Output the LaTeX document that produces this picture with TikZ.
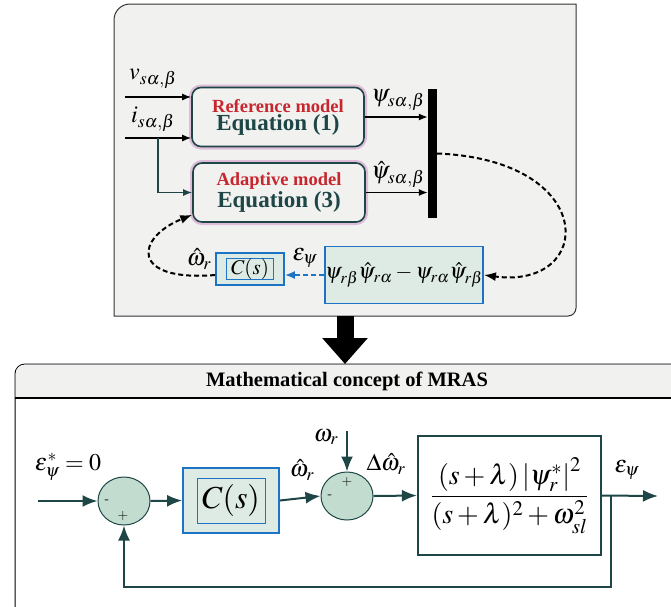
\documentclass[tikz,border=0pt]{standalone}
\usepackage{amsmath}
\usepackage{mathptmx}
\usepackage[no-math]{fontspec}
\setmainfont{Liberation Serif}
\usetikzlibrary{arrows.meta,positioning,shapes.geometric}
\definecolor{panelgray}{HTML}{F1F1F0}
\definecolor{deepteal}{HTML}{1E4646}
\definecolor{modelred}{HTML}{C8262E}
\definecolor{boxblue}{HTML}{1E74C4}
\definecolor{mintfill}{HTML}{DDEBE4}
\definecolor{sumfill}{HTML}{C2DCD0}
\definecolor{glowpink}{HTML}{DDBDD8}
\begin{document}
\begin{tikzpicture}[x=1pt,y=-1pt,
  model/.style={draw=deepteal, line width=1.6pt, rounded corners=9pt, fill=panelgray,
    minimum width=172pt, minimum height=59pt, align=center, inner sep=0pt,
    preaction={draw=glowpink, line width=6pt}},
  blueblk/.style={draw=boxblue, line width=1.8pt, fill=mintfill, inner sep=0pt},
  sumnode/.style={ellipse, draw=deepteal, line width=1pt, fill=sumfill,
    minimum width=52pt, minimum height=48pt, inner sep=0pt},
  sig/.style={-{Latex[length=9pt,width=7pt]}, line width=1.4pt},
  dsig/.style={-{Latex[length=12pt,width=9pt]}, line width=2pt, dash pattern=on 5pt off 3pt},
  flow/.style={-{Latex[length=15pt,width=12pt]}, line width=2pt, draw=deepteal},
  lbl/.style={font=\fontsize{24}{26}\selectfont, inner sep=0pt},
  sign/.style={font=\fontsize{14}{14}\selectfont\sffamily, inner sep=0pt}]
\useasboundingbox (0,0) rectangle (671,606);
\clip (0,0) rectangle (671,606);

% upper panel: the two models
\draw[draw=black!80, line width=1pt, fill=panelgray]
  (114,200) [rounded corners=16pt] -- (114,4) [sharp corners] -- (576,4)
  [rounded corners=8pt] -- (576,316) [sharp corners] -- (114,316) -- cycle;
\node[model] (refmodel) at (278,117)
  {\textcolor{modelred}{\fontsize{18.5}{20}\selectfont\bfseries Reference model}\\[1pt]
   \textcolor{deepteal}{\fontsize{23}{25}\selectfont\bfseries Equation (1)}};
\node[model] (adapmodel) at (279,192.5)
  {\textcolor{modelred}{\fontsize{18.5}{20}\selectfont\bfseries Adaptive model}\\[1pt]
   \textcolor{deepteal}{\fontsize{23}{25}\selectfont\bfseries Equation (3)}};
\node[fill=black, minimum width=9pt, minimum height=129pt, inner sep=0pt] (fluxbar) at (432.5,153.5) {};
\coordinate (vin) at (125,97);
\coordinate (iin) at (125,138);
\coordinate (ibranch) at (158,138);
\draw[sig] (vin) -- (vin -| refmodel.west);
\draw[sig] (iin) -- (iin -| refmodel.west);
\draw[sig, draw=deepteal] (ibranch) |- (adapmodel.west);
\node[lbl] (vlbl) at (153,79) {$v_{s\alpha,\beta}$};
\node[lbl] (ilbl) at (153,119) {$i_{s\alpha,\beta}$};
\draw[sig] (refmodel.east) -- (refmodel.east -| fluxbar.west);
\draw[sig] (adapmodel.east) -- (adapmodel.east -| fluxbar.west);
\node[lbl] (psilbl) at (398,100) {$\psi_{s\alpha,\beta}$};
\node[lbl] (psihatlbl) at (398,174) {$\hat{\psi}_{s\alpha,\beta}$};

% error and adaptation loop
\node[blueblk, minimum width=158pt, minimum height=57pt, font=\fontsize{22}{24}\selectfont]
  (errbox) at (404,275) {$\psi_{r\beta}\hat{\psi}_{r\alpha}-\psi_{r\alpha}\hat{\psi}_{r\beta}$};
\node[blueblk, minimum width=68pt, minimum height=32pt] (ctrltop) at (250,269) {};
\node[draw=boxblue, line width=1pt, minimum width=47pt, minimum height=21pt, inner sep=0pt,
  font=\fontsize{21}{23}\selectfont] (ctrltopin) at (ctrltop.center) {$C(s)$};
\draw[dsig] (fluxbar.east) .. controls (600,160) and (595,290) .. (errbox.east);
\draw[dsig, draw=boxblue, -{Latex[length=10pt,width=8pt]}, line width=1.6pt]
  (errbox.west) -- (errbox.west -| ctrltop.east);
\node[lbl] (epslbl) at (305,258) {$\varepsilon_{\psi}$};
\draw[dsig] ([yshift=-6pt]ctrltop.west) .. controls (130,282) and (135,238) .. ([yshift=8pt]adapmodel.south west);
\node[lbl] (wrhatlbl) at (199,259) {$\hat{\omega}_{r}$};

% transition arrow
\coordinate (toppanel-s) at (345,316);
\coordinate (mathpanel-n) at (345,364);
\draw[line width=17pt, -{Triangle[length=26pt,width=44pt]}] (toppanel-s) -- (mathpanel-n);

% lower panel: mathematical concept
\draw[line width=1pt, fill=white]
  (15,620) [rounded corners=10pt] -- (15,364) [sharp corners] -- (690,364) -- (690,620) -- cycle;
\fill[panelgray] (15.5,398) [rounded corners=9.5pt] -- (15.5,364.5) [sharp corners] -- (690,364.5) -- (690,398) -- cycle;
\draw[line width=2pt] (15,398) -- (690,398);
\node[font=\fontsize{20.5}{22}\selectfont\bfseries] (mrastitle) at (347,381) {Mathematical concept of MRAS};

\node[sumnode] (sumerr) at (124,501) {};
\node[sign] (sumerr-m) at (107,502) {-};
\node[sign] (sumerr-p) at (123,516) {+};
\coordinate (errref) at (38,501);
\draw[flow] (errref) -- (sumerr.west);
\node[lbl] (errreflbl) at (68,467) {$\varepsilon_{\psi}^{*}=0$};
\node[blueblk, minimum width=96pt, minimum height=65pt] (ctrl) at (231,500.5) {};
\node[draw=boxblue, line width=1pt, minimum width=68pt, minimum height=45pt, inner sep=0pt,
  font=\fontsize{32}{34}\selectfont] (ctrlin) at (ctrl.center) {$C(s)$};
\draw[flow] (sumerr.east) -- (ctrl.west);
\node[sumnode] (sumspd) at (347,496) {};
\node[sign] (sumspd-p) at (347,482) {+};
\node[sign] (sumspd-m) at (330,497) {-};
\draw[flow] (ctrl.east) -- (sumspd.west);
\node[lbl] (wrhat) at (302,470) {$\hat{\omega}_{r}$};
\coordinate (spdin) at (347,431);
\draw[flow] (spdin) -- (sumspd.north);
\node[lbl] (wr) at (326,437) {$\omega_{r}$};
\node[lbl] (dwrhat) at (386,464) {$\Delta\hat{\omega}_{r}$};
\node[draw=deepteal, line width=2.2pt, fill=white, minimum width=183pt, minimum height=119pt,
  inner sep=0pt, font=\fontsize{28}{30}\selectfont] (plant) at (509.5,495.5)
  {$\dfrac{(s+\lambda)\left|\psi_{r}^{*}\right|^{2}}{(s+\lambda)^{2}+\omega_{sl}^{2}}$};
\draw[flow] (sumspd.east) -- (plant.west);
\coordinate (errout) at (658,496);
\draw[flow] (plant.east) -- (errout);
\node[lbl] (epsout) at (627,470) {$\varepsilon_{\psi}$};
\coordinate (fbtap) at (611,496);
\coordinate (fbcorner) at (611,587);
\draw[flow] (fbtap) -- (fbcorner) -| (sumerr.south);
\end{tikzpicture}
\end{document}
